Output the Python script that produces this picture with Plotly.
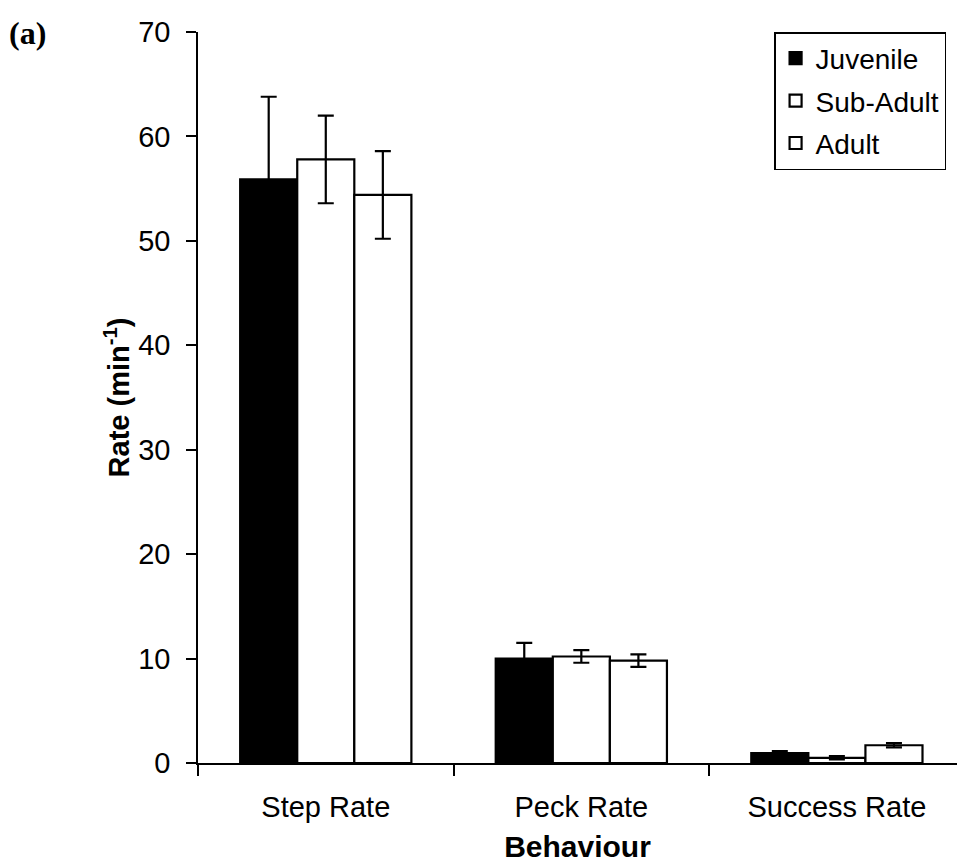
import plotly.graph_objects as go

# Behaviour categories and per-age-class mean rates (per minute) with error margins
behaviours = ["Step Rate", "Peck Rate", "Success Rate"]
age_classes = ["Juvenile", "Sub-Adult", "Adult"]

juvenile = [55.9, 10.0, 0.95]
juvenile_err = [7.9, 1.5, 0.2]
sub_adult = [57.8, 10.2, 0.5]
sub_adult_err = [4.2, 0.6, 0.15]
adult = [54.4, 9.8, 1.7]
adult_err = [4.2, 0.6, 0.2]

fills = ["black", "white", "white"]

FONT = "Liberation Sans, Arial, sans-serif"

fig = go.Figure()
for name, vals, errs, fill in zip(age_classes,
                                  [juvenile, sub_adult, adult],
                                  [juvenile_err, sub_adult_err, adult_err],
                                  fills):
    fig.add_trace(go.Bar(
        name=name,
        x=behaviours,
        y=vals,
        legendgroup=name,
        marker=dict(color=fill, line=dict(color="black", width=2.2)),
        error_y=dict(type="data", array=errs, visible=True,
                     color="black", thickness=2.2, width=8),
    ))

fig.update_layout(
    width=957,
    height=863,
    margin=dict(l=198, r=0, t=32, b=100),
    paper_bgcolor="white",
    plot_bgcolor="white",
    barmode="group",
    bargap=0.33,
    bargroupgap=0,
    font=dict(family=FONT, size=29, color="black"),
    legend=dict(
        x=0.759, y=1.0, xanchor="left", yanchor="top",
        bordercolor="black", borderwidth=1.5, bgcolor="white",
        font=dict(family=FONT, size=28, color="black"),
        tracegroupgap=3,
        itemwidth=30,
    ),
    xaxis=dict(
        type="category",
        range=[-0.5, 2.47],
        showline=True, linecolor="black", linewidth=1.5,
        ticks="outside", tickson="boundaries", ticklen=11,
        tickcolor="black", tickwidth=1.5,
        tickfont=dict(family=FONT, size=29),
        ticklabelstandoff=17,
        showgrid=False,
        title=dict(text="<b>Behaviour</b>", font=dict(family=FONT, size=30),
                   standoff=16),
    ),
    yaxis=dict(
        range=[0, 70],
        tickvals=[0, 10, 20, 30, 40, 50, 60, 70],
        showline=True, linecolor="black", linewidth=1.5,
        ticks="outside", ticklen=10, tickcolor="black", tickwidth=1.5,
        tickfont=dict(family=FONT, size=29),
        ticklabelstandoff=10,
        showgrid=False, zeroline=False,
        title=dict(text="<b>Rate (min<sup>-1</sup>)</b>",
                   font=dict(family=FONT, size=29), standoff=0),
    ),
    annotations=[dict(
        text="<b>(a)</b>", xref="paper", yref="paper",
        x=-0.252, y=0.998, xanchor="left", yanchor="middle",
        showarrow=False,
        font=dict(family="Liberation Serif, Times New Roman, serif",
                  size=32, color="black"),
    )],
)

fig.write_html("out.html")
